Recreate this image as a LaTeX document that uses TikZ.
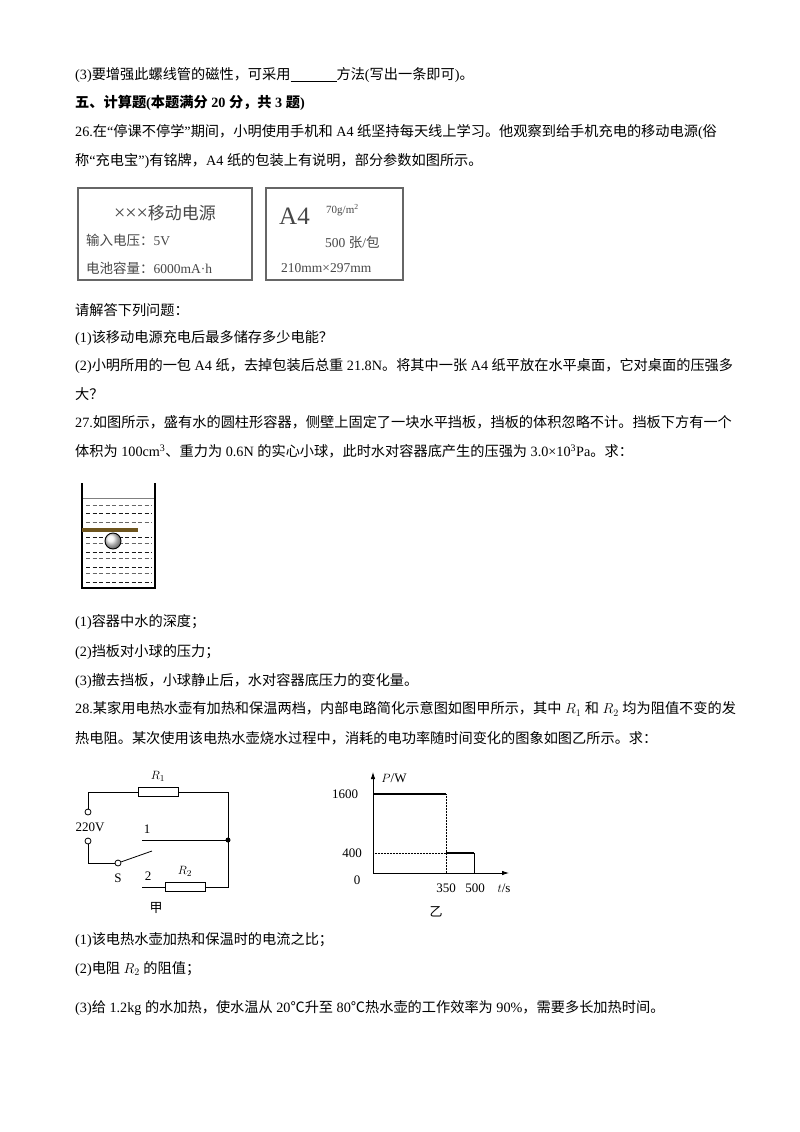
\documentclass[tikz,border=0pt]{standalone}
\usepackage{fontspec}
\usetikzlibrary{arrows.meta}
\setmainfont{Liberation Serif}
\newfontfamily\cjk{Noto Sans CJK SC}
\XeTeXinterchartokenstate=1
\newXeTeXintercharclass\cjkcls
\count255="4E00 \loop \XeTeXcharclass\count255=\cjkcls \ifnum\count255<"9FFF \advance\count255 1 \repeat
\count255="3000 \loop \XeTeXcharclass\count255=\cjkcls \ifnum\count255<"303F \advance\count255 1 \repeat
\count255="FF00 \loop \XeTeXcharclass\count255=\cjkcls \ifnum\count255<"FFEF \advance\count255 1 \repeat
\XeTeXcharclass"2103=\cjkcls
\XeTeXinterchartoks 0 \cjkcls = {\cjk}
\XeTeXinterchartoks 4095 \cjkcls = {\cjk}
\XeTeXinterchartoks \cjkcls 0 = {\rmfamily}
\XeTeXinterchartoks \cjkcls 4095 = {\rmfamily}
\definecolor{baffle}{RGB}{110,85,30}
\colorlet{boxtxt}{black!72}
\begin{document}
\begin{tikzpicture}[x=1pt,y=-1pt,
  txt/.style={anchor=west,inner sep=0pt,font=\fontsize{14.2}{16}\selectfont},
  sm/.style={inner sep=0pt,font=\fontsize{13}{15}\selectfont},
  bx/.style={inner sep=0pt,font=\fontsize{13.5}{15}\selectfont,text=boxtxt},
  wire/.style={line width=0.8pt},
  res/.style={draw,line width=0.8pt,fill=white,minimum width=40pt,minimum height=9pt,inner sep=0pt}]
\useasboundingbox (0,0) rectangle (800,1132);
\fill[white] (0,0) rectangle (800,1132);
\node[txt] (l1) at (75,75) {(3)要增强此螺线管的磁性，可采用\underline{\hspace{46pt}}方法(写出一条即可)。};
\node[txt,font=\fontsize{14.2}{16}\selectfont\bfseries] (h5) at (75,103) {五、计算题(本题满分 20 分，共 3 题)};
\node[txt] (q26a) at (75,132) {26.在“停课不停学”期间，小明使用手机和 A4 纸坚持每天线上学习。他观察到给手机充电的移动电源(俗};
\node[txt] (q26b) at (75,161) {称“充电宝”)有铭牌，A4 纸的包装上有说明，部分参数如图所示。};
% boxes
\draw[black!60,line width=1.8pt] (78,188) rectangle (252,280);
\draw[black!60,line width=1.8pt] (266,188) rectangle (403,280);
\node[bx,font=\fontsize{17}{19}\selectfont] (b1t) at (165,213) {\fontsize{20}{20}\selectfont×××\cjk\fontsize{17}{19}\selectfont 移动电源};
\node[bx,anchor=west] (b1a) at (86,240) {输入电压：5V};
\node[bx,anchor=west] (b1b) at (86,268) {电池容量：6000mA·h};
\node[bx,anchor=west,font=\fontsize{25}{27}\selectfont] (b2a) at (279,216) {A4};
\node[bx,anchor=west,font=\fontsize{11}{12}\selectfont] (b2b) at (326,210) {70g/m\textsuperscript{2}};
\node[bx,anchor=west] (b2c) at (325,242) {500 张/包};
\node[bx,anchor=west] (b2d) at (281,268) {210mm×297mm};
\node[txt] (a1) at (75,310) {请解答下列问题：};
\node[txt] (a2) at (75,338) {(1)该移动电源充电后最多储存多少电能？};
\node[txt] (a3) at (75,366) {(2)小明所用的一包 A4 纸，去掉包装后总重 21.8N。将其中一张 A4 纸平放在水平桌面，它对桌面的压强多};
\node[txt] (a4) at (75,394) {大？};
\node[txt] (q27a) at (75,422) {27.如图所示，盛有水的圆柱形容器，侧壁上固定了一块水平挡板，挡板的体积忽略不计。挡板下方有一个};
\node[txt] (q27b) at (75,451) {体积为 100cm\textsuperscript{3}、重力为 0.6N 的实心小球，此时水对容器底产生的压强为 3.0×10\textsuperscript{3}Pa。求：};
% container
\foreach \yy/\gg in {505/40,513/10,522/40,537/10,543/40,552/10,558/40,567/10,573/40,582/10}
  \draw[black!\the\numexpr 100-\gg\relax!white, dashed, dash pattern=on 4pt off 2.5pt, line width=1pt] (86,\yy) -- (152,\yy);
\draw[gray,line width=0.5pt] (82,498) -- (155,498);
\draw[line width=1.2pt] (82,483) -- (82,588) -- (155,588) -- (155,483);
\draw[baffle,line width=3.5pt] (82,530) -- (138,530);
\shade[ball color=white!90!gray] (113,541) circle (8);
\draw[line width=0.9pt] (113,541) circle (8);
\node[txt] (b1) at (75,622) {(1)容器中水的深度；};
\node[txt] (b2) at (75,652) {(2)挡板对小球的压力；};
\node[txt] (b3) at (75,681) {(3)撤去挡板，小球静止后，水对容器底压力的变化量。};
\node[txt] (q28a) at (75,709) {28.某家用电热水壶有加热和保温两档，内部电路简化示意图如图甲所示，其中 $R_1$ 和 $R_2$ 均为阻值不变的发};
\node[txt] (q28b) at (75,738) {热电阻。某次使用该电热水壶烧水过程中，消耗的电功率随时间变化的图象如图乙所示。求：};
% circuit
\coordinate (tl) at (88,792); \coordinate (tr) at (228,792);
\coordinate (j) at (228,840); \coordinate (br) at (228,887);
\node[res] (r1) at (158,792) {};
\node[res] (r2) at (185,887) {};
\node[draw,circle,minimum size=6pt,inner sep=0pt,line width=0.8pt] (ta) at (88,812) {};
\node[draw,circle,minimum size=6pt,inner sep=0pt,line width=0.8pt] (tb) at (88,841) {};
\node[draw,circle,minimum size=6pt,inner sep=0pt,line width=0.8pt] (sw) at (118,863) {};
\coordinate (c1) at (142,840); \coordinate (c2) at (142,887); \coordinate (blade) at (152,851);
\draw[wire] (ta) -- (tl) -- (r1) -- (tr) -- (br) -- (r2) -- (c2);
\draw[wire] (tb) |- (sw);
\draw[wire] (sw) -- (blade);
\draw[wire] (c1) -- (j);
\fill (j) circle (2.5);
\node[sm] (lr1) at (158,776) {$R_1$};
\node[sm] (lr2) at (185,871) {$R_2$};
\node[sm] (lv) at (90,827) {220V};
\node[sm] (ls) at (118,878) {S};
\node[sm] (l1c) at (147,829) {1};
\node[sm] (l2c) at (148,876) {2};
\node[sm] (jia) at (156,908) {甲};
% graph
\coordinate (o) at (373,873);
\coordinate (ytop) at (373,772); \coordinate (xend) at (509,873);
\draw[wire,-{Latex[length=7pt,width=4.5pt]}] (o) -- (ytop);
\draw[wire,-{Latex[length=7pt,width=4.5pt]}] (o) -- (xend);
\coordinate (p1) at (373,794); \coordinate (p2) at (446,794);
\coordinate (q0) at (373,853); \coordinate (q1) at (446,853); \coordinate (q2) at (474,853);
\coordinate (x350) at (446,873); \coordinate (x500) at (474,873);
\draw[line width=1.4pt] (p1) -- (p2);
\draw[line width=1.4pt] (q1) -- (q2);
\draw[densely dotted,line width=0.5pt] (p2) -- (x350) (q0) -- (q1);
\draw[line width=0.6pt] (q2) -- (x500);
\node[sm] (g1600) at (345,794) {1600};
\node[sm] (g400) at (352,853) {400};
\node[sm] (g0) at (357,880) {0};
\node[sm] (g350) at (446,888) {350};
\node[sm] (g500) at (475,888) {500};
\node[sm] (gt) at (504,888) {$t$/s};
\node[sm] (gp) at (394,778) {$P$/W};
\node[sm] (yi) at (436,912) {乙};
\node[txt] (c1t) at (75,940) {(1)该电热水壶加热和保温时的电流之比；};
\node[txt] (c2t) at (75,969) {(2)电阻 $R_2$ 的阻值；};
\node[txt] (c3t) at (75,1008) {(3)给 1.2kg 的水加热，使水温从 20℃升至 80℃热水壶的工作效率为 90\%，需要多长加热时间。};
\end{tikzpicture}
\end{document}
